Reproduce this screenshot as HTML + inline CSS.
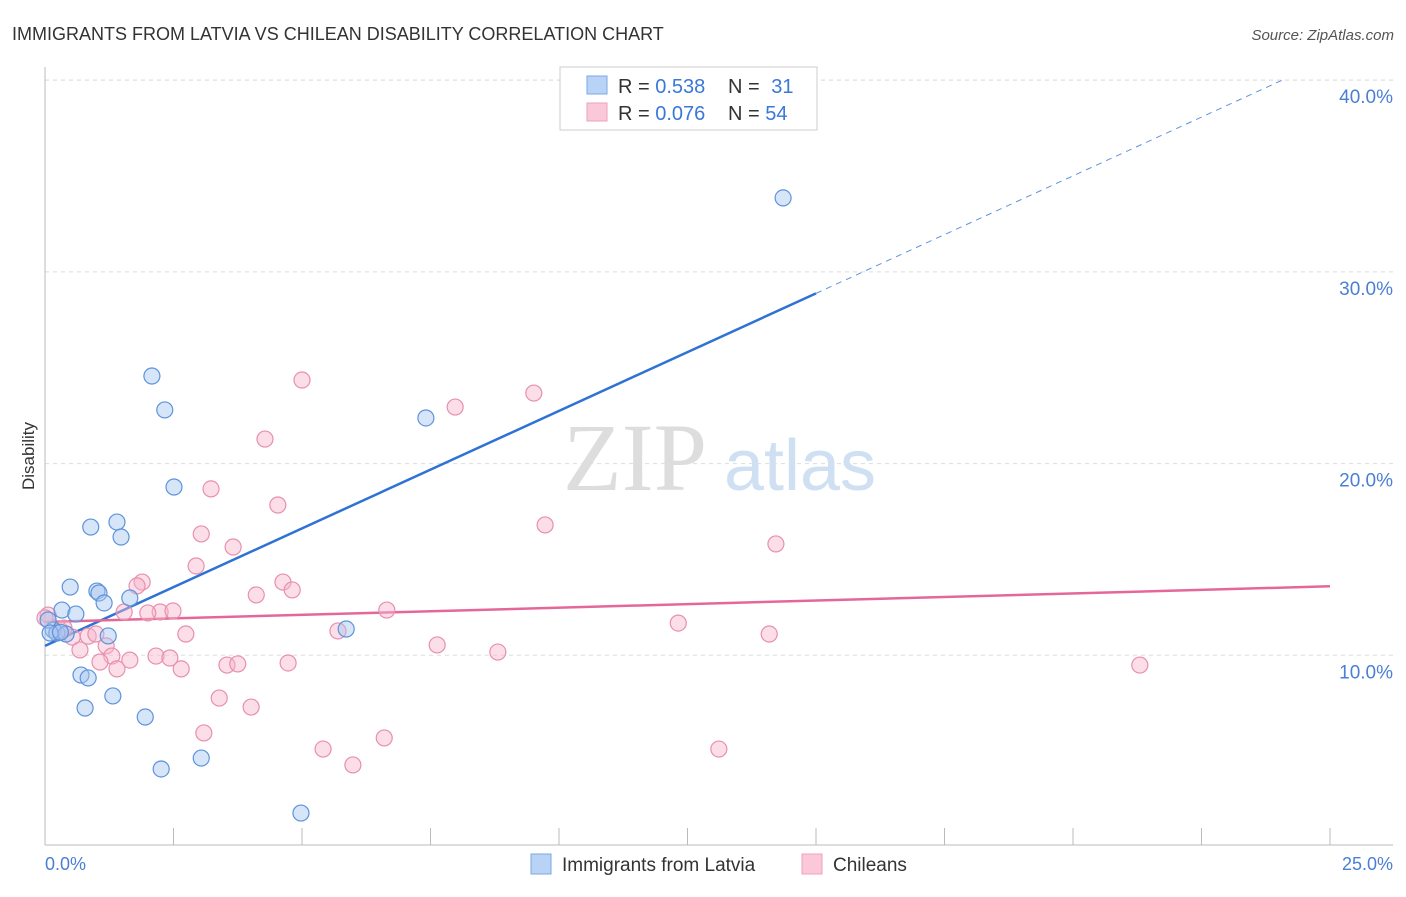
<!DOCTYPE html>
<html><head><meta charset="utf-8"><style>
body{margin:0;background:#fff;font-family:"Liberation Sans",sans-serif}
</style></head><body>
<svg width="1406" height="892" xmlns="http://www.w3.org/2000/svg">
<text x="12" y="40" font-size="18" fill="#333">IMMIGRANTS FROM LATVIA VS CHILEAN DISABILITY CORRELATION CHART</text>
<text x="1394" y="40" font-size="15" fill="#555" font-style="italic" text-anchor="end">Source: ZipAtlas.com</text>
<text x="635" y="490" font-size="96" fill="#ddd" font-family="Liberation Serif" text-anchor="middle">ZIP</text>
<text x="800" y="490" font-size="72" fill="#cfe0f3" text-anchor="middle">atlas</text>
<g id="grid"></g>
<g id="axes"></g>
<text x="34" y="456" font-size="17" fill="#333" text-anchor="middle" transform="rotate(-90 34 456)">Disability</text>
<text x="45" y="870" font-size="18" fill="#4a7fd4">0.0%</text>
<text x="1393" y="870" font-size="18" fill="#4a7fd4" text-anchor="end">25.0%</text>
<g id="lines"></g>
<g id="pts"></g>
<g>
<rect x="560" y="67" width="257" height="63" fill="#fff" stroke="#ccc"/>
<rect x="587" y="76" width="20" height="18" fill="#b8d3f5" stroke="#7aa8e8"/>
<rect x="587" y="103" width="20" height="18" fill="#fac8d8" stroke="#eea0bb"/>
<text x="618" y="93" font-size="20" fill="#333">R = <tspan fill="#3a78d8">0.538</tspan></text>
<text x="728" y="93" font-size="20" fill="#333">N = <tspan fill="#3a78d8" dx="6">31</tspan></text>
<text x="618" y="120" font-size="20" fill="#333">R = <tspan fill="#3a78d8">0.076</tspan></text>
<text x="728" y="120" font-size="20" fill="#333">N = <tspan fill="#3a78d8">54</tspan></text>
</g>
<g>
<rect x="531" y="854" width="20" height="20" fill="#b8d3f5" stroke="#7aa8e8"/>
<text x="562" y="871" font-size="19" fill="#333">Immigrants from Latvia</text>
<rect x="802" y="854" width="20" height="20" fill="#fac8d8" stroke="#eea0bb"/>
<text x="833" y="871" font-size="19" fill="#333">Chileans</text>
</g>
</svg>
<script>
const yTicks=[10,20,30,40];
const yTickLabels=["10.0%","20.0%","30.0%","40.0%"];
const blueX=[14.36,2.08,2.33,7.41,2.51,1.40,0.89,1.48,0.49,1.01,1.05,1.65,1.15,0.33,0.60,5.86,0.16,0.23,1.23,0.70,0.84,1.32,0.78,1.95,3.04,2.26,4.98,0.06,0.41,0.10,0.30];
const blueY=[33.86,24.57,22.8,22.38,18.78,16.95,16.69,16.17,13.56,13.35,13.25,12.99,12.73,12.36,12.15,11.37,11.32,11.16,11.01,8.97,8.82,7.88,7.25,6.78,4.64,4.07,1.77,11.84,11.11,11.16,11.2];
const pinkX=[5.00,9.51,7.98,4.28,3.23,4.53,9.73,14.22,3.04,3.66,2.94,1.89,1.79,4.63,4.81,4.11,6.65,2.24,2.49,1.54,2.00,12.32,5.70,14.09,2.74,0.06,0.29,0.53,0.84,0.99,1.19,0.68,7.63,8.81,2.16,2.43,1.30,1.65,1.07,1.40,2.65,3.54,3.75,4.73,21.3,3.39,4.01,3.09,6.60,5.41,13.11,5.99,0.0,0.37];
const pinkY=[24.36,23.68,22.95,21.28,18.68,17.84,16.8,15.81,16.33,15.65,14.66,13.82,13.62,13.82,13.41,13.15,12.36,12.26,12.31,12.26,12.21,11.68,11.27,11.11,11.11,12.1,11.32,10.95,11.0,11.11,10.49,10.28,10.54,10.17,9.96,9.86,9.96,9.75,9.65,9.29,9.29,9.49,9.55,9.6,9.49,7.77,7.30,5.95,5.69,5.11,5.11,4.28,11.95,11.42];
const blueTrend=[10.49,1.226];
const pinkTrend=[11.74,0.0744];
const NS="http://www.w3.org/2000/svg";
const xs=v=>45+v*51.4, ys=v=>847-v*19.17;
function mk(tag,attrs,parent){const e=document.createElementNS(NS,tag);for(const k in attrs)e.setAttribute(k,attrs[k]);document.getElementById(parent).appendChild(e);return e;}
mk('line',{x1:45,y1:80,x2:1393,y2:80,stroke:'#ddd','stroke-dasharray':'4,4'},'grid');
yTicks.forEach((t,i)=>{
 const g=mk('line',{x1:45,y1:ys(t),x2:1393,y2:ys(t),stroke:'#ddd','stroke-dasharray':'4,4'},'grid');
 
 
 const tx=mk('text',{x:1393,y:ys(t)+23,'font-size':19,fill:'#4a7fd4','text-anchor':'end'},'grid');
 tx.textContent=yTickLabels[i];
 
 
});
mk('line',{x1:45,y1:67,x2:45,y2:845,stroke:'#bbb'},'axes');
mk('line',{x1:45,y1:845,x2:1393,y2:845,stroke:'#bbb'},'axes');
for(let i=1;i<=10;i++){const t=mk('line',{x1:xs(i*2.5),y1:828,x2:xs(i*2.5),y2:845,stroke:'#bbb'},'axes');
 
 }
function draw(X,Y,fill,stroke,name){X.forEach((x,i)=>{const c=mk('circle',{cx:xs(x),cy:ys(Y[i]),r:8,fill:fill,'fill-opacity':0.45,stroke:stroke,'stroke-width':1.2},'pts');
 
 });}
draw(pinkX,pinkY,'#f7b6cb','#e88fae','chileans-point');
draw(blueX,blueY,'#a6c6f0','#5d93dc','latvia-point');
const bl=mk('line',{x1:xs(0),y1:ys(blueTrend[0]),x2:xs(15),y2:ys(blueTrend[0]+15*blueTrend[1]),stroke:'#2f72d6','stroke-width':2.5},'lines');


const bd=mk('line',{x1:xs(15),y1:ys(blueTrend[0]+15*blueTrend[1]),x2:xs(24.1),y2:ys(blueTrend[0]+24.1*blueTrend[1]),stroke:'#5d93dc','stroke-width':1,'stroke-dasharray':'6,5'},'lines');


const pl=mk('line',{x1:xs(0),y1:ys(pinkTrend[0]),x2:xs(25),y2:ys(pinkTrend[0]+25*pinkTrend[1]),stroke:'#e5679a','stroke-width':2.5},'lines');


</script>
</body></html>
